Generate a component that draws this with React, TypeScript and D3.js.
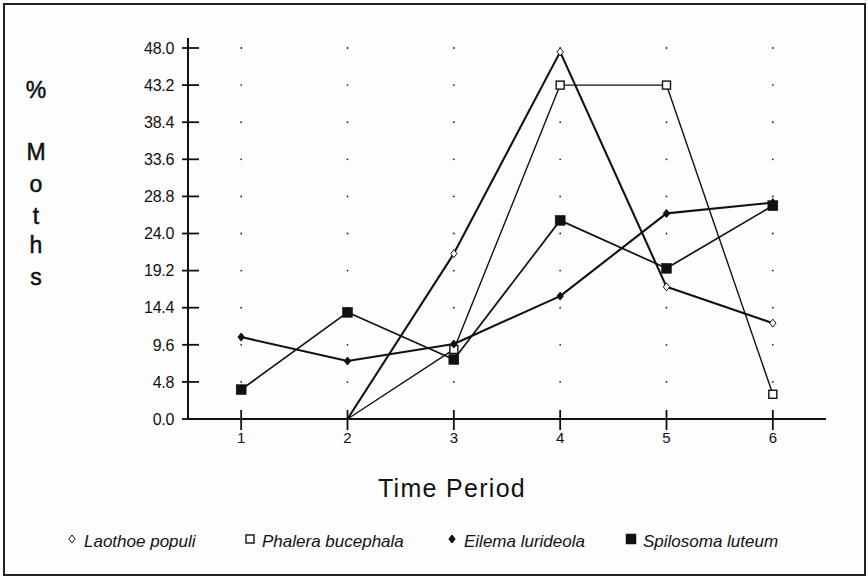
import React, { useRef, useEffect } from "react";
import * as d3 from "d3";

const periods = [1, 2, 3, 4, 5, 6];
const yTicks = [0, 4.8, 9.6, 14.4, 19.2, 24.0, 28.8, 33.6, 38.4, 43.2, 48.0];

const laothoePopuli = [0, 0, 21.4, 47.5, 17.1, 12.4];
const phaleraBucephala = [0, 0, 9.0, 43.2, 43.2, 3.2];
const eilemaLurideola = [10.6, 7.5, 9.7, 15.9, 26.6, 28.0];
const spilosomaLuteum = [3.8, 13.8, 7.7, 25.7, 19.5, 27.6];

const seriesNames = ["Laothoe populi", "Phalera bucephala", "Eilema lurideola", "Spilosoma luteum"];
const yTitleLetters = ["%", "M", "o", "t", "h", "s"];

const App = () => {
  const ref = useRef(null);

  useEffect(() => {
    const svg = d3.select(ref.current);
    svg.selectAll("*").remove();

    const font = "'Liberation Sans', Arial, sans-serif";
    const ink = "#111";

    // frame
    svg.append("rect")
      .attr("x", 4).attr("y", 4).attr("width", 861).attr("height", 571)
      .attr("fill", "#fdfdfd").attr("stroke", "#222").attr("stroke-width", 2);

    const x = d3.scaleLinear().domain([0.5, 6.5]).range([188, 826]);
    const y = d3.scaleLinear().domain([0, 48]).range([419, 48]);

    // dotted grid
    const g = svg.append("g");
    periods.forEach((p) => {
      yTicks.slice(1).forEach((t) => {
        g.append("circle").attr("cx", x(p)).attr("cy", y(t)).attr("r", 0.9).attr("fill", "#222");
      });
    });

    // y axis
    svg.append("line")
      .attr("x1", x(0.5)).attr("x2", x(0.5)).attr("y1", 38).attr("y2", y(0))
      .attr("stroke", ink).attr("stroke-width", 2);
    yTicks.forEach((t) => {
      svg.append("line")
        .attr("x1", x(0.5) - 6).attr("x2", x(0.5) + 11).attr("y1", y(t)).attr("y2", y(t))
        .attr("stroke", ink).attr("stroke-width", 1.8);
      svg.append("text")
        .attr("x", x(0.5) - 14).attr("y", y(t)).attr("dy", "0.36em")
        .attr("text-anchor", "end").attr("font-family", font).attr("font-size", 16)
        .attr("letter-spacing", -0.3).attr("fill", ink)
        .text(t.toFixed(1));
    });

    // x axis
    svg.append("line")
      .attr("x1", x(0.5)).attr("x2", x(6.5)).attr("y1", y(0)).attr("y2", y(0))
      .attr("stroke", ink).attr("stroke-width", 1.8);
    periods.forEach((p) => {
      svg.append("line")
        .attr("x1", x(p)).attr("x2", x(p)).attr("y1", y(0) - 9).attr("y2", y(0) + 11)
        .attr("stroke", ink).attr("stroke-width", 1.8);
      svg.append("text")
        .attr("x", x(p)).attr("y", 443)
        .attr("text-anchor", "middle").attr("font-family", font).attr("font-size", 15)
        .attr("fill", ink).text(p);
    });

    // axis titles
    const letterY = [90, 152, 184, 216, 245, 277];
    yTitleLetters.forEach((c, i) => {
      svg.append("text")
        .attr("x", 36).attr("y", letterY[i]).attr("dy", "0.36em").attr("text-anchor", "middle")
        .attr("font-family", font).attr("font-size", 23)
        .attr("stroke", ink).attr("stroke-width", 0.5)
        .attr("fill", ink).text(c);
    });
    svg.append("text")
      .attr("x", 452).attr("y", 497).attr("text-anchor", "middle")
      .attr("font-family", font).attr("font-size", 25).attr("letter-spacing", 1.3)
      .attr("fill", ink).text("Time Period");

    const series = [
      { name: seriesNames[0], values: laothoePopuli, shape: "diamond", fill: "#fff", width: 2.1 },
      { name: seriesNames[1], values: phaleraBucephala, shape: "square", fill: "#fff", width: 1.4 },
      { name: seriesNames[2], values: eilemaLurideola, shape: "diamond", fill: ink, width: 2.1 },
      { name: seriesNames[3], values: spilosomaLuteum, shape: "square", fill: ink, width: 1.7 },
    ];

    const line = d3.line<number>().x((_, i) => x(periods[i])).y((d) => y(d));

    const marker = (sel, shape, fill, cx, cy) => {
      if (shape === "diamond") {
        const s = 4;
        sel.append("path")
          .attr("d", `M${cx},${cy - s}L${cx + s * 0.8},${cy}L${cx},${cy + s}L${cx - s * 0.8},${cy}Z`)
          .attr("fill", fill).attr("stroke", ink).attr("stroke-width", 1);
      } else {
        const s = fill === "#fff" ? 8 : 10;
        sel.append("rect")
          .attr("x", cx - s / 2).attr("y", cy - s / 2).attr("width", s).attr("height", s)
          .attr("fill", fill).attr("stroke", ink).attr("stroke-width", fill === "#fff" ? 1.4 : 0.5);
      }
    };

    series.forEach((s) => {
      svg.append("path")
        .attr("d", line(s.values)).attr("fill", "none")
        .attr("stroke", ink).attr("stroke-width", s.width).attr("stroke-linejoin", "round");
    });
    series.forEach((s) => {
      s.values.forEach((v, i) => {
        if (v > 0) marker(svg, s.shape, s.fill, x(periods[i]), y(v));
      });
    });

    // legend
    const legendX = [72, 250, 452, 631];
    series.forEach((s, i) => {
      marker(svg, s.shape, s.fill, legendX[i], 539);
      svg.append("text")
        .attr("x", legendX[i] + 12).attr("y", 547)
        .attr("font-family", font).attr("font-size", 17).attr("font-style", "italic")
        .attr("fill", ink).text(s.name);
    });
  }, []);

  return (
    <svg
      ref={ref}
      width={868}
      height={579}
      style={{ position: "absolute", left: 0, top: 0, background: "#fff" }}
    />
  );
};

export default App;
